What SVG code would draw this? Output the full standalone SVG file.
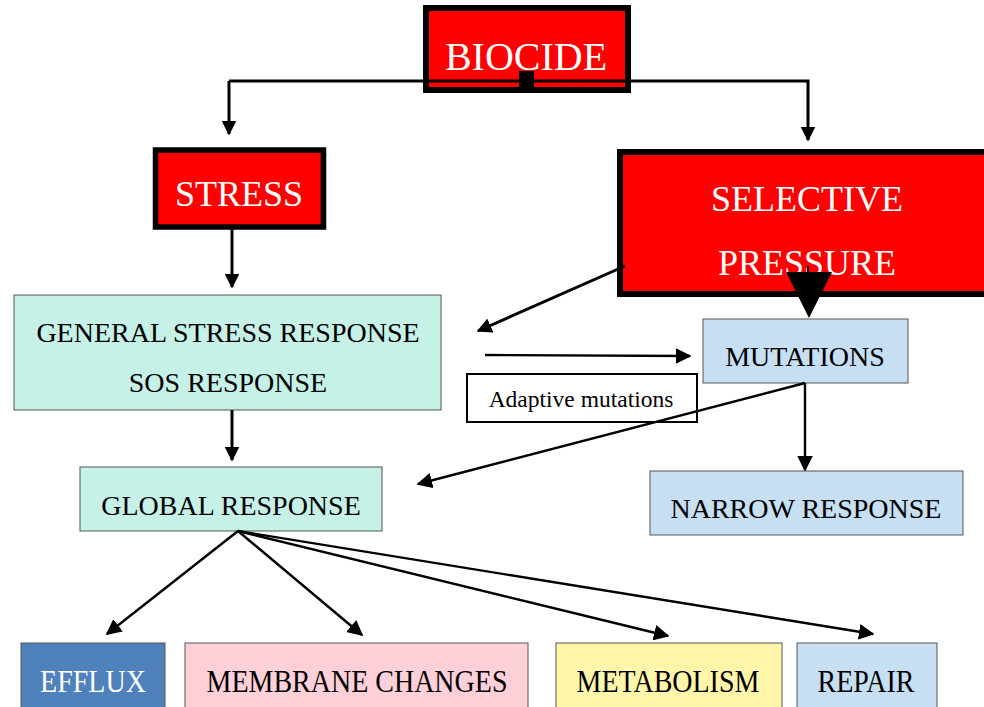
<svg xmlns="http://www.w3.org/2000/svg" width="984" height="707" viewBox="0 0 984 707">
<style>
text{font-family:"Liberation Serif","Times New Roman",serif;text-anchor:middle}
.red{fill:#ff0000;stroke:#000}
.wt{fill:#fff}
.bt{fill:#000}
.box{stroke:#555;stroke-width:1}
.ln{stroke:#000;stroke-width:3;fill:none}
.th{stroke:#000;stroke-width:2.4;fill:none}
</style>
<defs>
<marker id="ah" viewBox="0 0 10 10" refX="9" refY="5" markerWidth="5" markerHeight="5" markerUnits="strokeWidth" orient="auto">
<path d="M0,0 L10,5 L0,10 z" fill="#000"/>
</marker>
<marker id="ah2" viewBox="0 0 10 10" refX="9" refY="5" markerWidth="6.5" markerHeight="6.5" markerUnits="strokeWidth" orient="auto">
<path d="M0,0 L10,5 L0,10 z" fill="#000"/>
</marker>
</defs>
<rect width="984" height="707" fill="#fff"/>

<g id="biocide">
<rect class="red" x="426" y="8" width="202" height="82" stroke-width="6"/>
<text class="wt" x="526" y="70" font-size="40">BIOCIDE</text>
</g>
<g id="stress">
<rect class="red" x="155.5" y="150" width="168" height="77" stroke-width="5.5"/>
<text class="wt" x="239" y="206" font-size="36">STRESS</text>
</g>
<g id="selective">
<rect class="red" x="620" y="152" width="400" height="142" stroke-width="6"/>
<text class="wt" x="807" y="211" font-size="36">SELECTIVE</text>
<text class="wt" x="807" y="275" font-size="36">PRESSURE</text>
</g>
<g id="general">
<rect class="box" x="14" y="295" width="427" height="115" fill="#c6f1e7"/>
<text class="bt" x="228" y="342" font-size="28">GENERAL STRESS RESPONSE</text>
<text class="bt" x="228" y="392" font-size="28">SOS RESPONSE</text>
</g>
<g id="mutations">
<rect class="box" x="703" y="319" width="205" height="64" fill="#c6dff3"/>
<text class="bt" x="805" y="366" font-size="28">MUTATIONS</text>
</g>
<g id="adaptive">
<rect x="467" y="374" width="230" height="48" fill="#fff" stroke="#000" stroke-width="2"/>
<text class="bt" x="581" y="407" font-size="23.5">Adaptive mutations</text>
</g>
<g id="global">
<rect class="box" x="80" y="467" width="302" height="64" fill="#c6f1e7"/>
<text class="bt" x="231" y="515" font-size="28">GLOBAL RESPONSE</text>
</g>
<g id="narrow">
<rect class="box" x="650" y="471" width="313" height="64" fill="#c6dff3"/>
<text class="bt" x="806" y="518" font-size="28">NARROW RESPONSE</text>
</g>
<g id="efflux">
<rect class="box" x="21" y="643" width="144" height="70" fill="#4f81bd"/>
<text class="wt" x="93" y="692" font-size="28" transform="translate(0,-69.2) scale(1,1.1)">EFFLUX</text>
</g>
<g id="membrane">
<rect class="box" x="185" y="643" width="343" height="70" fill="#ffd0d8"/>
<text class="bt" x="357" y="692" font-size="28" transform="translate(0,-69.2) scale(1,1.1)">MEMBRANE CHANGES</text>
</g>
<g id="metabolism">
<rect class="box" x="556" y="643" width="226" height="70" fill="#fff6aa"/>
<text class="bt" x="668" y="692" font-size="28" transform="translate(0,-69.2) scale(1,1.1)">METABOLISM</text>
</g>
<g id="repair">
<rect class="box" x="797" y="643" width="140" height="70" fill="#c6dff3"/>
<text class="bt" x="866" y="692" font-size="28" transform="translate(0,-69.2) scale(1,1.1)">REPAIR</text>
</g>

<g id="connectors">
<path class="ln" d="M229,81 H808 V140" marker-end="url(#ah)"/>
<path class="ln" d="M229,81 V134" marker-end="url(#ah)"/>
<rect x="519" y="71" width="15" height="17" fill="#000"/>
<path class="ln" d="M232,229 V287" marker-end="url(#ah)"/>
<path class="ln" d="M625,266 L478,331" marker-end="url(#ah)"/>
<path d="M808,266 V274" stroke="#000" stroke-width="2"/>
<path d="M786,272 L832,272 L809,318 z" fill="#000"/>
<path class="ln" d="M232,410 V460" marker-end="url(#ah)"/>
<path class="th" d="M485,355 L690,356" marker-end="url(#ah2)"/>
<path class="th" d="M805,383 L418,484" marker-end="url(#ah2)"/>
<path class="th" d="M805,383 L805,470" marker-end="url(#ah2)"/>
<path class="th" d="M238,531 L107,634" marker-end="url(#ah2)"/>
<path class="th" d="M238,531 L362,635" marker-end="url(#ah2)"/>
<path class="th" d="M238,531 L668,636" marker-end="url(#ah2)"/>
<path class="th" d="M238,531 L873,634" marker-end="url(#ah2)"/>
</g>
</svg>
